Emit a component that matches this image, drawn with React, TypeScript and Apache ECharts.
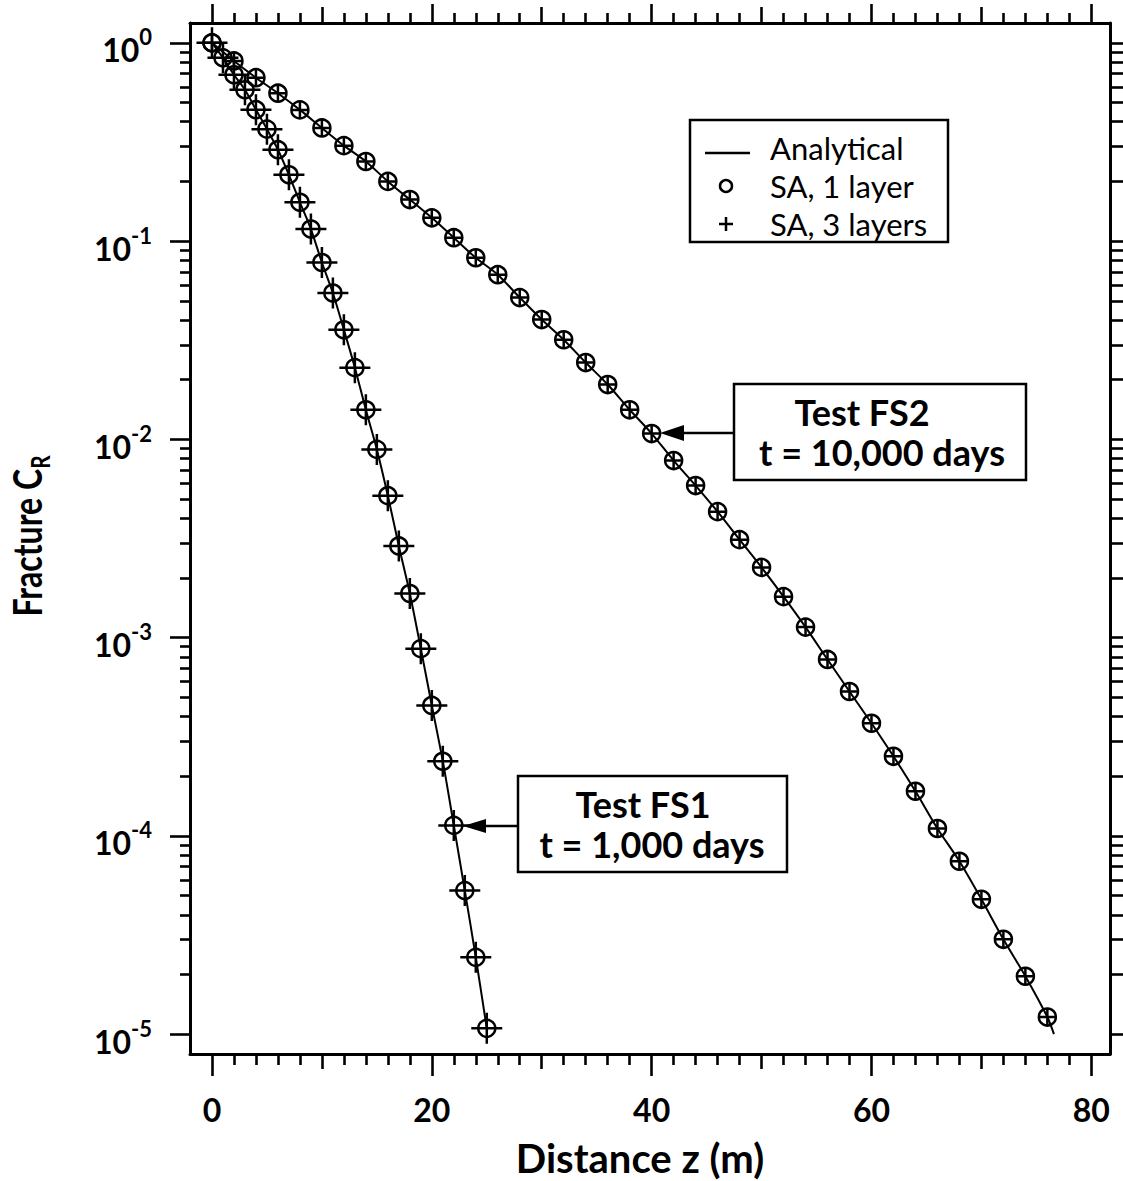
import React, { useEffect, useRef } from "react";
import * as echarts from "echarts";

// ---- data ----
const fs1Distance = [0, 1, 2, 3, 4, 5, 6, 7, 8, 9, 10, 11, 12, 13, 14, 15, 16, 17, 18, 19, 20, 21, 22, 23, 24, 25];
const fs1Conc = [
  1.0, 0.84, 0.69, 0.58, 0.46, 0.367, 0.289, 0.216, 0.157, 0.115, 0.078, 0.0547, 0.0357,
  0.023, 0.0141, 0.0089, 0.0052, 0.0029, 0.00167, 0.00088, 0.000455, 0.000238, 0.000113,
  5.3e-5, 2.44e-5, 1.07e-5,
];
const fs2Distance = [
  0, 2, 4, 6, 8, 10, 12, 14, 16, 18, 20, 22, 24, 26, 28, 30, 32, 34, 36, 38,
  40, 42, 44, 46, 48, 50, 52, 54, 56, 58, 60, 62, 64, 66, 68, 70, 72, 74, 76,
];
const fs2Conc = [
  1.0, 0.81, 0.667, 0.557, 0.459, 0.372, 0.303, 0.252, 0.2, 0.162, 0.131, 0.104, 0.0824,
  0.0677, 0.0519, 0.0402, 0.0318, 0.0244, 0.0189, 0.0141, 0.0107, 0.00782, 0.00585, 0.00432,
  0.00312, 0.00226, 0.00161, 0.00113, 0.000776, 0.000535, 0.00037, 0.000252, 0.000168,
  0.000109, 7.45e-5, 4.79e-5, 3.01e-5, 1.96e-5, 1.22e-5,
];
const fs2TailDistance = [76.6];
const fs2TailConc = [1.0e-5];

const xMajorTicks = [0, 20, 40, 60, 80];
const xMediumTicks = [10, 30, 50, 70];
const xMinorTicks = [2, 4, 6, 8, 12, 14, 16, 18, 22, 24, 26, 28, 32, 34, 36, 38, 42, 44, 46, 48, 52, 54, 56, 58, 62, 64, 66, 68, 72, 74, 76, 78];
const yDecades = [0, -1, -2, -3, -4, -5];
const yMantissas = [2, 3, 4, 5, 6, 7, 8, 9];

const legendLabels = ["Analytical", "SA, 1 layer", "SA, 3 layers"];
const xTitle = "Distance z (m)";

const FONT = "Lato";
const BLACK = "#000";

const toLog = (z: number[], c: number[]) => z.map((v, i) => [v, Math.log10(c[i])]);

export default function App() {
  const ref = useRef<HTMLDivElement>(null);

  useEffect(() => {
    if (!ref.current) return;
    const chart = echarts.init(ref.current, null, { renderer: "svg" });

    const yMinor: number[] = [];
    yDecades.slice(1).forEach((d) => yMantissas.forEach((m) => yMinor.push(d + Math.log10(m))));

    const xBase = {
      type: "value",
      min: -2,
      max: 81.7,
      gridIndex: 0,
      splitLine: { show: false },
    };
    const yBase = {
      type: "value",
      min: -5.1,
      max: 0.1,
      gridIndex: 0,
      splitLine: { show: false },
    };
    const lineStyle = { color: BLACK, width: 3 };
    const tickLine = { color: BLACK, width: 2.6 };

    const mkX = (position: string, ticks: number[], length: number, showLine: boolean, labels: boolean) => ({
      ...xBase,
      position,
      axisLine: { show: showLine, onZero: false, lineStyle },
      axisTick: { show: true, customValues: ticks, length, lineStyle: tickLine },
      axisLabel: labels
        ? {
            show: true,
            customValues: ticks,
            margin: 55,
            verticalAlign: "middle",
            fontFamily: FONT,
            fontSize: 32,
            fontWeight: "bold",
            color: BLACK,
          }
        : { show: false },
    });
    const mkY = (position: string, ticks: number[], length: number, showLine: boolean, labels: boolean) => ({
      ...yBase,
      position,
      axisLine: { show: showLine, onZero: false, lineStyle },
      axisTick: { show: true, customValues: ticks, length, lineStyle: tickLine },
      axisLabel: labels
        ? {
            show: true,
            customValues: ticks,
            margin: 38,
            padding: [6, 0, 0, 0],
            formatter: (v: number) => `{b|10}{s|${Math.round(v)}}`,
            rich: {
              b: { fontFamily: FONT, fontSize: 32, fontWeight: "bold", color: BLACK, lineHeight: 40, verticalAlign: "bottom" },
              s: { fontFamily: FONT, fontSize: 22, fontWeight: "bold", color: BLACK, lineHeight: 22, verticalAlign: "top" },
            },
          }
        : { show: false },
    });

    const markerStyle = { color: "rgba(0,0,0,0)", borderColor: BLACK, borderWidth: 2.5, opacity: 1 };
    const plusPath = "path://M0,-1L0,1M-1,0L1,0";

    const option = {
      animation: false,
      backgroundColor: "#fff",
      grid: { left: 190, top: 23, width: 920, height: 1031, containLabel: false },
      xAxis: [
        mkX("bottom", xMajorTicks, 22, true, true),
        mkX("bottom", xMediumTicks, 15, false, false),
        mkX("bottom", xMinorTicks, 11, false, false),
        mkX("top", xMajorTicks, 19, true, false),
        mkX("top", xMediumTicks, 16, false, false),
        mkX("top", xMinorTicks, 10, false, false),
      ],
      yAxis: [
        mkY("left", yDecades, 20, true, true),
        mkY("left", yMinor, 10, false, false),
        mkY("right", yDecades, 20, true, false),
        mkY("right", yMinor, 13, false, false),
      ],
      series: [
        {
          name: "Analytical FS1",
          type: "line",
          data: toLog(fs1Distance, fs1Conc),
          smooth: 0.3,
          symbol: "none",
          lineStyle: { color: BLACK, width: 2 },
          z: 2,
        },
        {
          name: "Analytical FS2",
          type: "line",
          data: toLog(fs2Distance.concat(fs2TailDistance), fs2Conc.concat(fs2TailConc)),
          smooth: 0.3,
          symbol: "none",
          lineStyle: { color: BLACK, width: 2 },
          z: 2,
        },
        {
          name: "SA, 1 layer FS1",
          type: "scatter",
          data: toLog(fs1Distance, fs1Conc),
          symbol: "circle",
          symbolSize: 17,
          itemStyle: markerStyle,
          z: 3,
        },
        {
          name: "SA, 3 layers FS1",
          type: "scatter",
          data: toLog(fs1Distance, fs1Conc),
          symbol: plusPath,
          symbolSize: 31,
          itemStyle: markerStyle,
          z: 3,
        },
        {
          name: "SA, 1 layer FS2",
          type: "scatter",
          data: toLog(fs2Distance, fs2Conc),
          symbol: "circle",
          symbolSize: 17,
          itemStyle: markerStyle,
          z: 3,
        },
        {
          name: "SA, 3 layers FS2",
          type: "scatter",
          data: toLog(fs2Distance, fs2Conc),
          symbol: plusPath,
          symbolSize: 16,
          itemStyle: markerStyle,
          z: 3,
        },
      ],
      graphic: [
        // legend
        { type: "rect", shape: { x: 690, y: 120, width: 258, height: 122 }, style: { fill: "#fff", stroke: BLACK, lineWidth: 2.5 }, z: 10 },
        { type: "line", shape: { x1: 705, y1: 153, x2: 750, y2: 153 }, style: { stroke: BLACK, lineWidth: 2.5 }, z: 11 },
        { type: "circle", shape: { cx: 726, cy: 186, r: 6 }, style: { fill: "none", stroke: BLACK, lineWidth: 2.5 }, z: 11 },
        { type: "line", shape: { x1: 719, y1: 224, x2: 733, y2: 224 }, style: { stroke: BLACK, lineWidth: 2.5 }, z: 11 },
        { type: "line", shape: { x1: 726, y1: 217, x2: 726, y2: 231 }, style: { stroke: BLACK, lineWidth: 2.5 }, z: 11 },
        ...legendLabels.map((t, i) => ({
          type: "text",
          x: 770,
          y: [148, 186, 224][i],
          z: 11,
          style: { text: t, fill: BLACK, fontFamily: FONT, fontSize: 31, lineHeight: 31, align: "left", verticalAlign: "middle" },
        })),
        // FS2 annotation
        { type: "rect", shape: { x: 734, y: 384, width: 292, height: 96 }, style: { fill: "#fff", stroke: BLACK, lineWidth: 2.5 }, z: 10 },
        { type: "text", x: 862, y: 412, z: 11, style: { text: "Test FS2", fill: BLACK, fontFamily: FONT, fontSize: 36, fontWeight: "bold", align: "center", verticalAlign: "middle" } },
        { type: "text", x: 882, y: 452, z: 11, style: { text: "t = 10,000 days", fill: BLACK, fontFamily: FONT, fontSize: 36, fontWeight: "bold", align: "center", verticalAlign: "middle" } },
        { type: "line", shape: { x1: 734, y1: 433, x2: 680, y2: 433 }, style: { stroke: BLACK, lineWidth: 2.5 }, z: 11 },
        { type: "polygon", shape: { points: [[660, 433], [684, 425], [684, 441]] }, style: { fill: BLACK }, z: 11 },
        // FS1 annotation
        { type: "rect", shape: { x: 518, y: 776, width: 269, height: 96 }, style: { fill: "#fff", stroke: BLACK, lineWidth: 2.5 }, z: 10 },
        { type: "text", x: 643, y: 804, z: 11, style: { text: "Test FS1", fill: BLACK, fontFamily: FONT, fontSize: 36, fontWeight: "bold", align: "center", verticalAlign: "middle" } },
        { type: "text", x: 652, y: 844, z: 11, style: { text: "t = 1,000 days", fill: BLACK, fontFamily: FONT, fontSize: 36, fontWeight: "bold", align: "center", verticalAlign: "middle" } },
        { type: "line", shape: { x1: 518, y1: 826, x2: 482, y2: 826 }, style: { stroke: BLACK, lineWidth: 2.5 }, z: 11 },
        { type: "polygon", shape: { points: [[463, 826], [486, 819], [486, 833]] }, style: { fill: BLACK }, z: 11 },
        // axis titles
        {
          type: "text",
          x: 30,
          y: 536,
          rotation: Math.PI / 2,
          scaleX: 0.8,
          z: 11,
          style: {
            text: "{a|Fracture C}{r|R}",
            align: "center",
            verticalAlign: "middle",
            rich: {
              a: { fontFamily: FONT, fontSize: 40, fontWeight: "bold", fill: BLACK, lineHeight: 46, verticalAlign: "top" },
              r: { fontFamily: FONT, fontSize: 26, fontWeight: "bold", fill: BLACK, lineHeight: 26, verticalAlign: "bottom" },
            },
          },
        },
        {
          type: "text",
          x: 640,
          y: 1158,
          z: 11,
          style: { text: xTitle, fill: BLACK, fontFamily: FONT, fontSize: 40, fontWeight: "bold", align: "center", verticalAlign: "middle" },
        },
      ],
    };

    chart.setOption(option as any);
    return () => chart.dispose();
  }, []);

  return (
    <div
      ref={ref}
      style={{ position: "absolute", left: 0, top: 0, width: 1123, height: 1181, background: "#fff" }}
    />
  );
}
